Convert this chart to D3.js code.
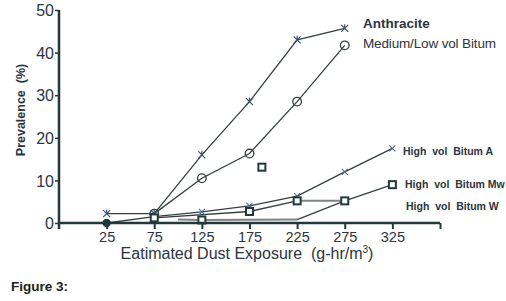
<!DOCTYPE html>
<html>
<head>
<meta charset="utf-8">
<script src="https://cdn.jsdelivr.net/npm/d3@7"></script>
<style>
  body { margin: 0; background: #fff; }
  svg { display: block; font-family: "Liberation Sans", Arial, sans-serif; }
</style>
</head>
<body>
<svg id="chart" width="506" height="301"></svg>
<script>
// data
let exposure = [25, 75, 125, 175, 225, 275, 325];
let anthracite = [2.2, 2.2, 16, 28.5, 43, 45.7, null];
let medLow = [null, 2.2, 10.5, 16.3, 28.5, 41.7, null];
let bitumA = [0, 1.5, 2.6, 4.0, 6.3, 12, 17.5];
let bitumMw = [null, 1.2, null, 2.7, 5.2, 5.2, 9.0];
let bitumWx = [100, 125, 225, 275];
let bitumW = [0.8, 0.7, 0.8, 5.2];
let strayPoint = [188, 13.1];
let xTicks = [25, 75, 125, 175, 225, 275, 325];
let yTicks = [0, 10, 20, 30, 40, 50];

let svg = d3.select("#chart");
let ink = "#22383a";
let lineCol = "#34403f";

let x = d3.scaleLinear().domain([-25, 375]).range([59, 440]);
let y = d3.scaleLinear().domain([0, 50]).range([223, 10]);

function pts(xs, ys) {
  return xs.map((v, i) => [v, ys[i]]).filter(d => d[1] != null);
}

let line = d3.line().x(d => x(d[0])).y(d => y(d[1]));

function drawLine(data, color, width) {
  svg.append("path")
     .attr("d", line(data))
     .attr("fill", "none")
     .attr("stroke", color)
     .attr("stroke-width", width);
}

// grey flat pieces
let mwPts = pts(exposure, bitumMw);
let wPts = pts(bitumWx, bitumW);
drawLine(wPts.slice(0, 3), "#7d8282", 2);
drawLine(wPts.slice(2), lineCol, 1.3);
drawLine(mwPts.slice(0, 3), lineCol, 1.3);
drawLine(mwPts.slice(2, 4), "#7d8282", 2);
drawLine(mwPts.slice(3), lineCol, 1.3);
drawLine(pts(exposure, bitumA), lineCol, 1.3);
drawLine(pts(exposure, medLow), lineCol, 1.3);
drawLine(pts(exposure, anthracite), lineCol, 1.3);

// markers
let anthG = svg.append("g");
pts(exposure, anthracite).forEach(d => {
  let cx = x(d[0]), cy = y(d[1]);
  anthG.append("path")
       .attr("d", `M${cx-3.5},${cy-3.5}L${cx+3.5},${cy+3.5}M${cx-3.5},${cy+3.5}L${cx+3.5},${cy-3.5}M${cx},${cy-4}L${cx},${cy}`)
       .attr("stroke", "#3b4f6a").attr("stroke-width", 1.2);
});

svg.append("g").selectAll("circle")
   .data(pts(exposure, medLow))
   .join("circle")
   .attr("cx", d => x(d[0])).attr("cy", d => y(d[1]))
   .attr("r", 4.3)
   .attr("fill", "none").attr("stroke", lineCol).attr("stroke-width", 1.3);

pts(exposure, bitumA).forEach((d, i) => {
  let cx = x(d[0]), cy = y(d[1]);
  if (i == 0) {
    svg.append("circle").attr("cx", cx).attr("cy", cy).attr("r", 4.2).attr("fill", ink);
  } else if (i > 1) {
    svg.append("path")
       .attr("d", `M${cx-3},${cy-3}L${cx+3},${cy+3}M${cx-3},${cy+3}L${cx+3},${cy-3}`)
       .attr("stroke", "#4a6c8c").attr("stroke-width", 1.1);
  }
});

let sq = mwPts.concat([wPts[1], strayPoint]);
svg.append("g").selectAll("rect")
   .data(sq)
   .join("rect")
   .attr("x", d => x(d[0]) - 3.5).attr("y", d => y(d[1]) - 3.5)
   .attr("width", 7).attr("height", 7)
   .attr("fill", "#fff").attr("stroke", ink).attr("stroke-width", 2);

// axes
let xAxis = d3.axisBottom(x).tickValues(xTicks.concat([375])).tickSize(6)
              .tickFormat(d => d == 375 ? "" : d);
let gx = svg.append("g").attr("transform", `translate(0,${y(0)})`).call(xAxis);
gx.select(".domain").attr("stroke", ink).attr("stroke-width", 2.5).attr("d", "M59,0H440");
gx.selectAll(".tick line").attr("stroke", ink).attr("stroke-width", 2);
gx.selectAll(".tick text").attr("font-size", 14.5).attr("fill", "#2c3440")
  .attr("font-family", "Liberation Sans, Arial, sans-serif").attr("y", 9).attr("dy", "0.71em");

let yAxis = d3.axisLeft(y).tickValues(yTicks).tickSize(4);
let gy = svg.append("g").attr("transform", `translate(${x(-25)},0)`).call(yAxis);
gy.select(".domain").attr("stroke", ink).attr("stroke-width", 2.5).attr("d", "M0,10V229");
gy.selectAll(".tick line").attr("stroke", ink).attr("stroke-width", 1.5);
gy.selectAll(".tick text").attr("font-size", 16).attr("fill", "#2c3440")
  .attr("font-family", "Liberation Sans, Arial, sans-serif").attr("x", -5).attr("dy", "0.36em");

// titles
svg.append("text").attr("x", 247).attr("y", 259).attr("text-anchor", "middle")
   .attr("font-size", 16).attr("fill", "#2c3440")
   .html("Eatimated Dust Exposure&#160;&#160;(g-hr/m<tspan font-size='10' dy='-6'>3</tspan><tspan dy='6'>)</tspan>");

svg.append("text").attr("transform", "translate(25,110) rotate(-90)")
   .attr("text-anchor", "middle").attr("font-size", 12.5).attr("font-weight", "bold")
   .attr("fill", "#2c3440").text("Prevalence\u00a0\u00a0(%)");

// series labels
let labels = [
  {t: "Anthracite", x: 363, y: 27.5, s: 13.5, w: "bold", len: null},
  {t: "Medium/Low vol Bitum", x: 363, y: 47.5, s: 13.5, w: "normal", len: 133},
  {t: "High\u00a0 vol\u00a0 Bitum A", x: 403, y: 155, s: 10.5, w: "bold", len: null},
  {t: "High\u00a0 vol\u00a0 Bitum Mw", x: 405, y: 188, s: 10.5, w: "bold", len: null},
  {t: "High\u00a0 vol\u00a0 Bitum W", x: 406, y: 210, s: 10.5, w: "bold", len: null}
];
svg.selectAll("text.lab").data(labels).join("text").attr("class", "lab")
   .attr("x", d => d.x).attr("y", d => d.y)
   .attr("font-size", d => d.s).attr("font-weight", d => d.w)
   .attr("textLength", d => d.len)
   .attr("fill", "#2c3440").text(d => d.t);

svg.append("text").attr("x", 11).attr("y", 291).attr("font-size", 13.5)
   .attr("font-weight", "bold").attr("fill", "#222").text("Figure 3:");
</script>
</body>
</html>
